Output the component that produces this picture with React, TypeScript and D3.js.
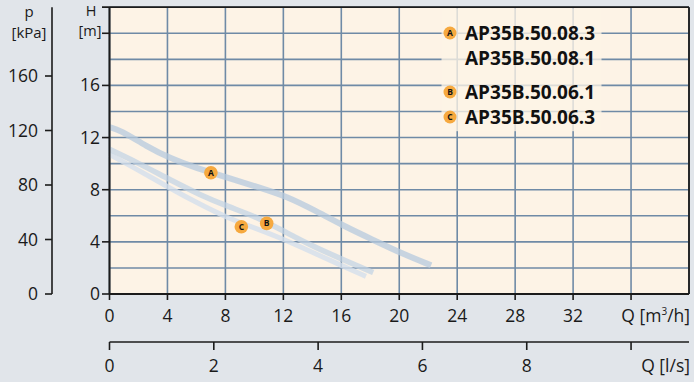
import React from "react";
import * as d3 from "d3";

const qTicksM3h = [0, 4, 8, 12, 16, 20, 24, 28, 32];
const qGridM3h = [0, 4, 8, 12, 16, 20, 24, 28, 32, 36, 40];
const qTicksLs = [0, 2, 4, 6, 8];
const hTickLabels = [0, 4, 8, 12, 16];
const hTickMarks = [0, 4, 8, 12, 16, 20];
const hGrid = [0, 2, 4, 6, 8, 10, 12, 14, 16, 18, 20, 22];
const pTicks = [0, 40, 80, 120, 160];

// pump curves [Q m3/h, H m]
const curveTop: [number, number][] = [
  [0, 12.8], [0.7, 12.6], [2.6, 11.3], [4.2, 10.4], [6.0, 9.65], [8.2, 8.9], [10.4, 8.15],
  [12.3, 7.45], [14.1, 6.45], [16.2, 5.2], [18.2, 4.15], [20.2, 3.1], [22.2, 2.2],
];
const curveMid: [number, number][] = [
  [0, 11.1], [1.9, 10.1], [4.2, 8.75], [6.25, 7.6], [8.2, 6.7], [10.4, 5.8],
  [12.3, 4.65], [14.1, 3.63], [16.2, 2.6], [18.2, 1.65],
];
const curveLow: [number, number][] = [
  [0, 10.7], [2.0, 9.5], [4.2, 8.1], [6.2, 6.9], [8.2, 5.8], [10.2, 5.0], [11.8, 4.3],
  [14.0, 3.2], [16.2, 2.1], [17.7, 1.35],
];

const badgePoints = [
  { id: "A", q: 7.0, h: 9.3 },
  { id: "B", q: 10.85, h: 5.42 },
  { id: "C", q: 9.1, h: 5.16 },
];

const legendItems = [
  { badge: "A", label: "AP35B.50.08.3", y: 33 },
  { badge: "", label: "AP35B.50.08.1", y: 58.5 },
  { badge: "B", label: "AP35B.50.06.1", y: 92 },
  { badge: "C", label: "AP35B.50.06.3", y: 117 },
];

const FONT = "'Open Sans', sans-serif";

export default function App() {
  const W = 694, H = 382;
  const x = d3.scaleLinear().domain([0, 40]).range([109.5, 689]);
  const y = d3.scaleLinear().domain([0, 22]).range([294, 7.2]);
  const p = d3.scaleLinear().domain([0, 160]).range([294, 76]);
  const xl = d3.scaleLinear().domain([0, 10]).range([x(0), x(36)]);

  const line = d3
    .line<[number, number]>()
    .x((d) => x(d[0]))
    .y((d) => y(d[1]))
    .curve(d3.curveBasis);

  const left = x(0), right = x(40), top = y(22), bottom = y(0);
  const gridColor = "#6f8aa6";
  const axisColor = "#1b1b1b";
  const textColor = "#1a1a1a";
  const lsY = 342;

  return (
    <svg width={W} height={H} style={{ position: "absolute", left: 0, top: 0 }} fontFamily={FONT}>
      <rect x={0} y={0} width={W} height={H} fill="#e1e5ea" />
      <rect x={left} y={top} width={right - left} height={bottom - top} fill="#fdf3e6" />
      {/* grid */}
      {qGridM3h.map((q) => (
        <line key={"gx" + q} x1={x(q)} x2={x(q)} y1={top} y2={bottom} stroke={gridColor} strokeWidth={1.6} />
      ))}
      {hGrid.map((h) => (
        <line key={"gy" + h} x1={left} x2={right} y1={y(h)} y2={y(h)} stroke={gridColor} strokeWidth={1.6} />
      ))}
      {/* curves */}
      <path d={line(curveLow) || ""} fill="none" stroke="#d3dfec" strokeOpacity={0.8} strokeWidth={5} />
      <path d={line(curveMid) || ""} fill="none" stroke="#c0d2e4" strokeOpacity={0.72} strokeWidth={5.5} />
      <path d={line(curveTop) || ""} fill="none" stroke="#b5c9de" strokeOpacity={0.75} strokeWidth={6} />
      {/* badges on curves */}
      {badgePoints.map((b) => (
        <g key={b.id} transform={`translate(${x(b.q)},${y(b.h)})`}>
          <circle r={6.8} fill="#f6a93f" />
          <text textAnchor="middle" dy={3.1} fontSize={8.5} fontWeight={700} fill="#111">{b.id}</text>
        </g>
      ))}
      {/* legend box */}
      <rect x={441.5} y={top + 1} width={160} height={123} fill="#fdf3e6" fillOpacity={0.78} />
      {legendItems.map((it) => (
        <g key={it.label}>
          {it.badge && (
            <g transform={`translate(450,${it.y})`}>
              <circle r={6.5} fill="#f6a93f" />
              <text textAnchor="middle" dy={3} fontSize={8.5} fontWeight={700} fill="#111">{it.badge}</text>
            </g>
          )}
          <text x={465} y={it.y + 6.8} fontSize={19} fontWeight={700} fill="#111">{it.label}</text>
        </g>
      ))}
      {/* plot borders */}
      <line x1={102} x2={right} y1={top} y2={top} stroke={axisColor} strokeWidth={1.8} />
      <line x1={right} x2={right} y1={top} y2={bottom} stroke={axisColor} strokeWidth={1.8} />
      <line x1={left} x2={left} y1={top} y2={bottom} stroke={axisColor} strokeWidth={2} />
      <line x1={left} x2={right} y1={bottom} y2={bottom} stroke={axisColor} strokeWidth={2} />
      {/* H axis */}
      {hTickMarks.map((h) => (
        <line key={"ht" + h} x1={102} x2={left} y1={y(h)} y2={y(h)} stroke={axisColor} strokeWidth={1.6} />
      ))}
      {hTickLabels.map((h) => (
        <text key={"hl" + h} x={100} y={y(h) + 6} textAnchor="end" fontSize={17.5} fill={textColor}>{h}</text>
      ))}
      <text x={91} y={15.5} textAnchor="middle" fontSize={14.5} fill={textColor}>H</text>
      <text x={90} y={35.5} textAnchor="middle" fontSize={14.5} fill={textColor}>[m]</text>
      {/* p axis */}
      <line x1={52} x2={52} y1={top} y2={bottom} stroke={axisColor} strokeWidth={1.6} />
      {pTicks.map((v) => (
        <g key={"p" + v}>
          <line x1={45} x2={52} y1={p(v)} y2={p(v)} stroke={axisColor} strokeWidth={1.6} />
          <text x={38} y={p(v) + 6} textAnchor="end" fontSize={17.5} fill={textColor}>{v}</text>
        </g>
      ))}
      <text x={29} y={17} textAnchor="middle" fontSize={15} fill={textColor}>p</text>
      <text x={29} y={37.5} textAnchor="middle" fontSize={15} fill={textColor}>[kPa]</text>
      {/* Q m3/h axis */}
      {[...qTicksM3h, 36].map((q) => (
        <line key={"qt" + q} x1={x(q)} x2={x(q)} y1={bottom} y2={bottom + 6} stroke={axisColor} strokeWidth={1.6} />
      ))}
      {qTicksM3h.map((q) => (
        <text key={"ql" + q} x={x(q)} y={322} textAnchor="middle" fontSize={17.5} fill={textColor}>{q}</text>
      ))}
      <text x={690} y={322} textAnchor="end" fontSize={17.5} fill={textColor}>
        Q [m<tspan fontSize={10} dy={-7}>3</tspan><tspan dy={7}>/h]</tspan>
      </text>
      {/* Q l/s axis */}
      <line x1={left} x2={right} y1={lsY} y2={lsY} stroke={axisColor} strokeWidth={1.6} />
      {[...qTicksLs, 10].map((v) => (
        <line key={"lt" + v} x1={xl(v)} x2={xl(v)} y1={lsY} y2={lsY + 8} stroke={axisColor} strokeWidth={1.6} />
      ))}
      {qTicksLs.map((v) => (
        <text key={"ll" + v} x={xl(v)} y={372} textAnchor="middle" fontSize={17.5} fill={textColor}>{v}</text>
      ))}
      <text x={690} y={372} textAnchor="end" fontSize={17.5} fill={textColor}>Q [l/s]</text>
    </svg>
  );
}
